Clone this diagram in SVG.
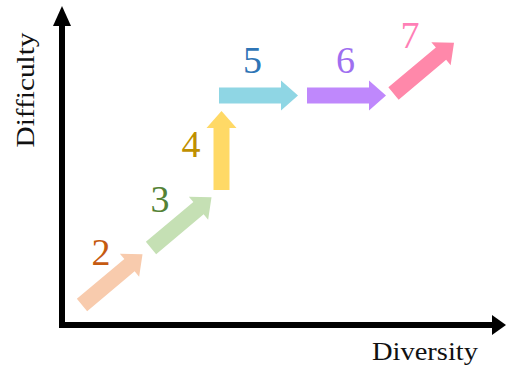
<svg xmlns="http://www.w3.org/2000/svg" width="506" height="369" viewBox="0 0 506 369">
<style>
.axis{stroke:#000;stroke-width:6;fill:none}
.head{fill:#000}
.lbl{font-family:"Liberation Serif","DejaVu Serif",serif;font-size:38px;text-anchor:middle}
.ax{font-family:"Liberation Serif","DejaVu Serif",serif;font-size:26px;fill:#111}
</style>
<defs>
<polygon id="arr" points="0,-8 62,-8 62,-15 79,0 62,15 62,8 0,8"/>
</defs>
<rect width="506" height="369" fill="#fff"/>
<g id="axes">
<path class="axis" d="M62,328 V24 M59,325 H494"/>
<polygon class="head" points="62,6 53,26 71,26"/>
<polygon class="head" points="506,325 492,315 492,335"/>
<text class="ax" transform="translate(34,90) rotate(-90)" text-anchor="middle" textLength="115" lengthAdjust="spacingAndGlyphs">Difficulty</text>
<text class="ax" x="372" y="360" textLength="106" lengthAdjust="spacingAndGlyphs">Diversity</text>
</g>
<g id="connectors">
<use href="#arr" fill="#F8CBAD" transform="translate(82,305) rotate(-40)"/>
<use href="#arr" fill="#C5E0B4" transform="translate(151,248) rotate(-40)"/>
<use href="#arr" fill="#FFD966" transform="translate(221.5,190) rotate(-90)"/>
<use href="#arr" fill="#8FD6E4" transform="translate(219,95.5)"/>
<use href="#arr" fill="#BF88FC" transform="translate(307,95.5)"/>
<use href="#arr" fill="#FF88AA" transform="translate(393.5,93.5) rotate(-40)"/>
</g>
<g id="n2"><text class="lbl" x="101" y="265" fill="#C55A11">2</text></g>
<g id="n3"><text class="lbl" x="160" y="212" fill="#548235">3</text></g>
<g id="n4"><text class="lbl" x="191" y="157" fill="#BF9000">4</text></g>
<g id="n5"><text class="lbl" x="252.5" y="73" fill="#2E75B6">5</text></g>
<g id="n6"><text class="lbl" x="345.5" y="73" fill="#9F6FF0">6</text></g>
<g id="n7"><text class="lbl" x="410" y="48" fill="#FF7FB6">7</text></g>
</svg>
